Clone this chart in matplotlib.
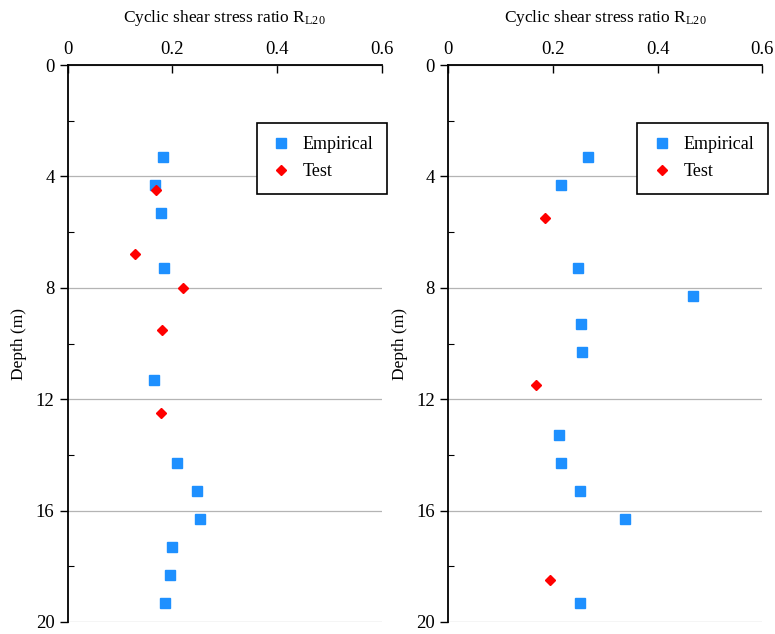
import matplotlib
matplotlib.use("Agg")
import matplotlib.pyplot as plt
from matplotlib.ticker import MultipleLocator

plt.rcParams['font.family'] = ['Liberation Serif', 'DejaVu Serif']
plt.rcParams['mathtext.fontset'] = 'custom'
plt.rcParams['mathtext.rm'] = 'Liberation Serif'
plt.rcParams['mathtext.it'] = 'Liberation Serif:italic'

# Left panel data
emp1_x = [0.182, 0.166, 0.178, 0.184, 0.165, 0.208, 0.247, 0.253, 0.200, 0.196, 0.185]
emp1_d = [3.3, 4.3, 5.3, 7.3, 11.3, 14.3, 15.3, 16.3, 17.3, 18.3, 19.3]
test1_x = [0.168, 0.129, 0.220, 0.180, 0.178]
test1_d = [4.5, 6.8, 8.0, 9.5, 12.5]

# Right panel data
emp2_x = [0.266, 0.216, 0.247, 0.467, 0.254, 0.256, 0.212, 0.216, 0.252, 0.338, 0.252]
emp2_d = [3.3, 4.3, 7.3, 8.3, 9.3, 10.3, 13.3, 14.3, 15.3, 16.3, 19.3]
test2_x = [0.185, 0.167, 0.194]
test2_d = [5.5, 11.5, 18.5]

x_ticks = [0, 0.2, 0.4, 0.6]
x_ticklabels = ['0', '0.2', '0.4', '0.6']
y_ticks = [0, 4, 8, 12, 16, 20]

fig = plt.figure(figsize=(7.75, 6.34), dpi=100)
ax1 = fig.add_axes([67.7/775, 1-622/634, 314/775, 557/634])
ax2 = fig.add_axes([448.3/775, 1-622/634, 314/775, 557/634])

for ax, ex, ed, tx, td in [(ax1, emp1_x, emp1_d, test1_x, test1_d),
                           (ax2, emp2_x, emp2_d, test2_x, test2_d)]:
    ax.plot(ex, ed, linestyle='none', marker='s', markersize=7, color='#1E90FF',
            markeredgecolor='#1E90FF', label='Empirical', zorder=3)
    ax.plot(tx, td, linestyle='none', marker='D', markersize=5, color='#FF0000',
            markeredgecolor='#FF0000', label='Test', zorder=3)
    ax.set_xlim(0, 0.6)
    ax.set_ylim(20, 0)
    ax.xaxis.tick_top()
    ax.xaxis.set_label_position('top')
    ax.set_xticks(x_ticks)
    ax.set_xticklabels(x_ticklabels)
    ax.set_yticks(y_ticks)
    ax.yaxis.set_minor_locator(MultipleLocator(2))
    ax.tick_params(axis='x', which='major', direction='in', length=6, width=1,
                   labelsize=13.5, pad=5)
    ax.tick_params(axis='y', which='major', direction='out', length=6, width=1,
                   labelsize=13.5)
    ax.tick_params(axis='y', which='minor', direction='in', length=4, width=0.8)
    ax.tick_params(axis='x', which='minor', top=False, bottom=False)
    ax.spines['right'].set_visible(False)
    ax.spines['bottom'].set_visible(False)
    ax.spines['left'].set_linewidth(1.3)
    ax.spines['top'].set_linewidth(1.3)
    ax.yaxis.grid(True, which='major', color='#b4b4b4', linewidth=0.9)
    ax.set_axisbelow(True)
    ax.set_xlabel(r'Cyclic shear stress ratio R$_{\mathrm{L20}}$', fontsize=12.5, labelpad=14)
    ax.set_ylabel('Depth (m)', fontsize=12.5, labelpad=6)
    leg = ax.legend(loc='upper left', bbox_to_anchor=(0.602, 0.896), borderaxespad=0,
                    fontsize=13, frameon=True, fancybox=False, edgecolor='black',
                    handletextpad=0.6, borderpad=0.75, labelspacing=0.55, handlelength=1.2,
                    framealpha=1)
    leg.get_frame().set_linewidth(1.2)
    leg.set_zorder(5)

fig.savefig('out.png', dpi=100)
